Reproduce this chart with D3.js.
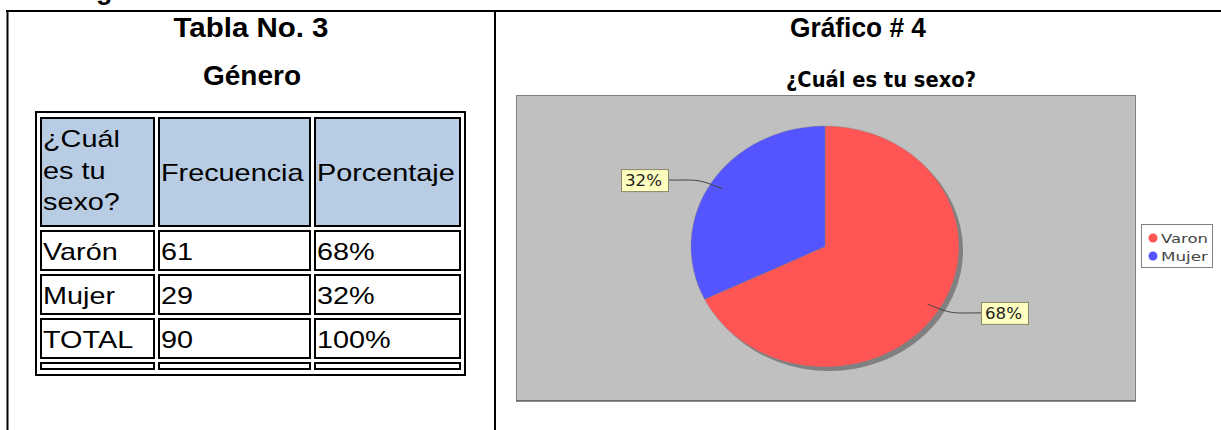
<!DOCTYPE html>
<html>
<head>
<meta charset="utf-8">
<script src="https://cdn.jsdelivr.net/npm/d3@7"></script>
<style>
  body { margin: 0; background: #fff; }
  svg { display: block; }
</style>
</head>
<body>
<svg id="chart"></svg>
<script>
// table data
const encabezados = ["¿Cuál es tu sexo?", "Frecuencia", "Porcentaje"];
const categorias = ["Varón", "Mujer", "TOTAL"];
const frecuencias = [61, 29, 90];
const porcentajes = ["68%", "32%", "100%"];

// pie data
const series = ["Varon", "Mujer"];
const valores = [61, 29];
const etiquetas = ["68%", "32%"];
const colores = ["#ff5555", "#5555ff"];

const W = 1221, H = 430;
const svg = d3.select("#chart").attr("width", W).attr("height", H);

const arialFont = "'Liberation Sans', Arial, sans-serif";
const jfFont = "'DejaVu Sans', Tahoma, sans-serif";

// page frame
svg.append("line").attr("x1", 6).attr("x2", W).attr("y1", 11).attr("y2", 11)
  .attr("stroke", "#000").attr("stroke-width", 2);
[7.5, 495].forEach(x => {
  svg.append("line").attr("x1", x).attr("x2", x).attr("y1", 10).attr("y2", H)
    .attr("stroke", "#000").attr("stroke-width", 2);
});
// text from the previous page section, cut off at the top edge
svg.append("text").attr("x", 96).attr("y", -1).text("g")
  .attr("font-family", arialFont).attr("font-weight", "bold").attr("font-size", 27);

// titles
function titulo(txt, x, y, len) {
  const t = svg.append("text").attr("x", x).attr("y", y).attr("text-anchor", "middle")
    .attr("font-family", arialFont).attr("font-weight", "bold").attr("font-size", 27)
    .text(txt);
  if (len) t.attr("textLength", len).attr("lengthAdjust", "spacingAndGlyphs");
  return t;
}
titulo("Tabla No. 3", 251, 37, 155);
titulo("Género", 252, 85, 98);
titulo("Gráfico # 4", 858, 37, 136);

// ---- table ----
const colEdges = [[40, 155], [158, 311], [314, 461]];
const rowEdges = [[117, 227], [230, 271], [274, 315], [318, 359], [362, 370]];

const tabla = svg.append("g");
tabla.append("rect").attr("x", 36).attr("y", 112).attr("width", 429).attr("height", 263)
  .attr("fill", "none").attr("stroke", "#000").attr("stroke-width", 2);

rowEdges.forEach((r, ri) => {
  colEdges.forEach(c => {
    tabla.append("rect")
      .attr("x", c[0] + 1).attr("y", r[0] + 1)
      .attr("width", c[1] - c[0] - 2).attr("height", r[1] - r[0] - 2)
      .attr("fill", ri === 0 ? "#b8cce4" : "#fff")
      .attr("stroke", "#000").attr("stroke-width", 2);
  });
});

function celda(txt, ci, y) {
  const c = colEdges[ci];
  const t = tabla.append("text").attr("x", c[0] + 3).attr("y", y)
    .attr("font-family", arialFont).attr("font-size", 24).attr("fill", "#000")
    .text(txt);
  const len = t.node().getComputedTextLength();
  t.attr("textLength", Math.min(len * 1.2, c[1] - c[0] - 5))
    .attr("lengthAdjust", "spacingAndGlyphs");
}

// header: first column wraps on three lines
["¿Cuál", "es tu", "sexo?"].forEach((w, i) => celda(w, 0, 147 + i * 31.5));
celda(encabezados[1], 1, 181);
celda(encabezados[2], 2, 181);

categorias.forEach((cat, i) => {
  const y = rowEdges[i + 1][0] + 30;
  celda(cat, 0, y);
  celda(String(frecuencias[i]), 1, y);
  celda(porcentajes[i], 2, y);
});

// ---- pie chart ----
const plot = { x: 516, y: 95, w: 619, h: 305 };
svg.append("text").attr("x", 881).attr("y", 87).attr("text-anchor", "middle")
  .attr("font-family", jfFont).attr("font-weight", "bold").attr("font-size", 21.5)
  .attr("textLength", 190).attr("lengthAdjust", "spacingAndGlyphs")
  .text("¿Cuál es tu sexo?");

svg.append("rect").attr("x", plot.x + 0.5).attr("y", plot.y + 0.5)
  .attr("width", plot.w).attr("height", plot.h)
  .attr("fill", "#c0c0c0").attr("stroke", "#808080").attr("stroke-width", 1);
svg.append("line").attr("x1", plot.x).attr("x2", plot.x + plot.w + 1)
  .attr("y1", plot.y + plot.h + 1).attr("y2", plot.y + plot.h + 1)
  .attr("stroke", "#666").attr("stroke-width", 1.5);

const cx = 825, cy = 246.5, rx = 134, ry = 120.5;
const pie = d3.pie().sort(null).value(d => d);
const arcs = pie(valores);
const arc = d3.arc().innerRadius(0).outerRadius(ry);

// shadow
svg.append("ellipse").attr("cx", cx + 4).attr("cy", cy + 4).attr("rx", rx).attr("ry", ry)
  .attr("fill", "#808080");

const pieG = svg.append("g")
  .attr("transform", `translate(${cx},${cy}) scale(${rx / ry},1)`);
pieG.selectAll("path").data(arcs).join("path")
  .attr("d", arc)
  .attr("fill", (d, i) => colores[i])
  .attr("stroke", "#808080").attr("stroke-width", 0.4);

// labels with curved links
arcs.forEach((d, i) => {
  const mid = (d.startAngle + d.endAngle) / 2;
  const sx = Math.sin(mid), sy = -Math.cos(mid);
  const ax = cx + sx * rx * 0.9, ay = cy + sy * ry * 0.9;
  const right = sx > 0;
  const ly = cy + sy * ry * 1.04;
  const bw = 47, bh = 22;
  const ex = right ? cx + 156 : cx - 157;
  const path = d3.path();
  path.moveTo(ax, ay);
  path.bezierCurveTo(ax + sx * 30, ay + sy * 20, ex + (right ? -30 : 30), ly, ex, ly);
  svg.append("path").attr("d", path.toString())
    .attr("fill", "none").attr("stroke", "#444").attr("stroke-width", 1);
  const bx = right ? ex : ex - bw;
  svg.append("rect").attr("x", bx + 0.5).attr("y", ly - bh / 2 + 0.5)
    .attr("width", bw).attr("height", bh)
    .attr("fill", "#ffffc0").attr("stroke", "#888868").attr("stroke-width", 1);
  svg.append("text").attr("x", bx + 4).attr("y", ly + 6)
    .attr("font-family", jfFont).attr("font-size", 15).attr("fill", "#222")
    .attr("textLength", 37).attr("lengthAdjust", "spacingAndGlyphs")
    .text(etiquetas[i]);
});

// legend
const leg = svg.append("g");
leg.append("rect").attr("x", 1141.5).attr("y", 224.5).attr("width", 71).attr("height", 43)
  .attr("fill", "#fff").attr("stroke", "#808080").attr("stroke-width", 1);
series.forEach((s, i) => {
  const y = 238 + i * 18;
  leg.append("circle").attr("cx", 1153).attr("cy", y).attr("r", 4.5).attr("fill", colores[i]);
  leg.append("text").attr("x", 1161).attr("y", y + 5)
    .attr("font-family", jfFont).attr("font-size", 13).attr("fill", "#444")
    .attr("textLength", 47).attr("lengthAdjust", "spacingAndGlyphs")
    .text(s);
});
</script>
</body>
</html>
